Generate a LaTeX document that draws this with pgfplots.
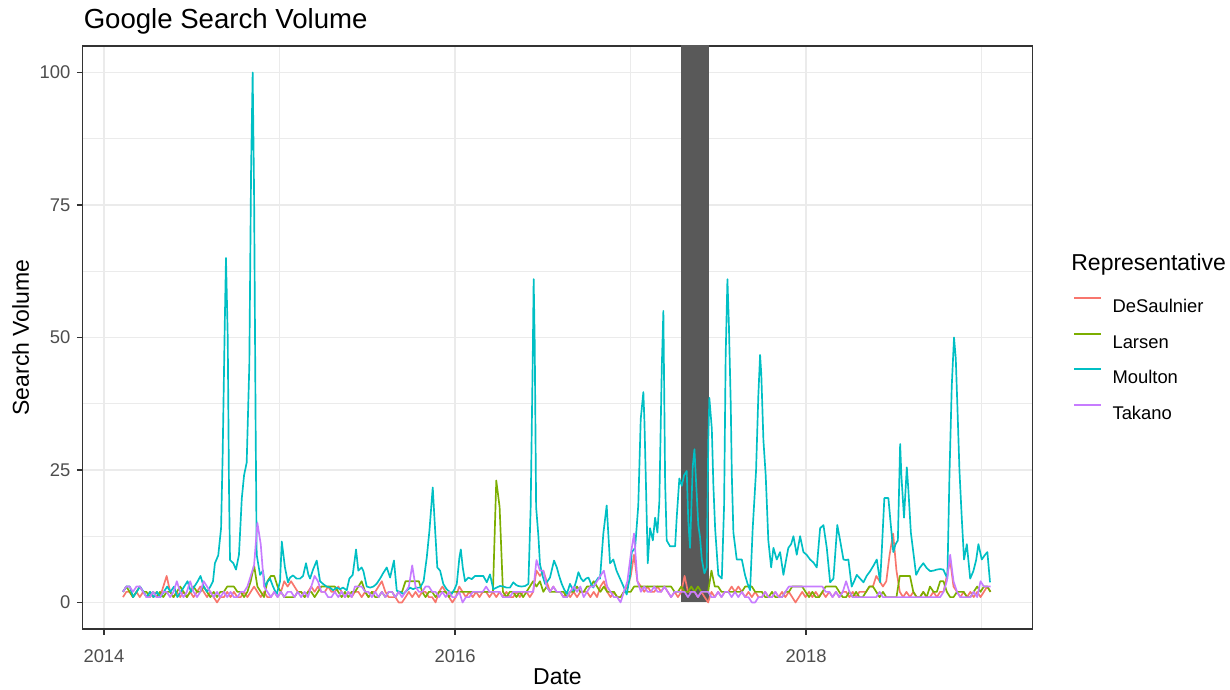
\documentclass[border=0pt]{standalone}
\usepackage{pgfplots}
\pgfplotsset{compat=1.18}
\usepackage{pgfplotstable}
\usepackage{fontspec}
\setmainfont{Liberation Sans}
\usetikzlibrary{calc}
\definecolor{cD}{HTML}{F8766D}
\definecolor{cL}{HTML}{7CAE00}
\definecolor{cM}{HTML}{00BFC4}
\definecolor{cT}{HTML}{C77CFF}
\definecolor{gridc}{HTML}{EBEBEB}
\definecolor{tickc}{HTML}{4D4D4D}
\definecolor{bordc}{HTML}{333333}
\definecolor{rectc}{HTML}{595959}

\pgfplotstableread{
year D L T
2014.108 1 2 2
2014.127 2 3 3
2014.146 2 2 3
2014.165 1 1 2
2014.185 2 2 3
2014.204 1 3 3
2014.223 2 2 2
2014.242 1 2 1
2014.261 2 1 1
2014.280 1 2 2
2014.300 2 1 1
2014.319 1 2 1
2014.338 3 1 2
2014.357 5 2 2
2014.377 2 2 1
2014.396 1 1 2
2014.415 2 2 4
2014.434 1 3 2
2014.453 2 2 1
2014.472 1 1 2
2014.491 2 2 4
2014.510 1 3 2
2014.530 2 2 1
2014.549 3 2 2
2014.568 2 3 4
2014.587 1 2 3
2014.606 2 1 2
2014.625 1 2 1
2014.644 0 1 2
2014.663 1 2 1
2014.683 1 2 2
2014.702 2 3 1
2014.721 1 3 2
2014.740 2 3 1
2014.760 1 2 1
2014.779 1 2 2
2014.798 2 1 2
2014.817 1 2 3
2014.836 2 4 5
2014.855 3 7 7
2014.874 2 3 15
2014.893 1 2 11
2014.912 2 1 3
2014.931 1 4 2
2014.951 1 5 1
2014.970 2 5 2
2014.989 1 3 1
2015.008 2 2 2
2015.027 4 1 1
2015.046 3 1 2
2015.066 4 1 2
2015.085 3 1 1
2015.104 2 2 2
2015.123 2 2 1
2015.143 1 1 2
2015.162 2 2 1
2015.181 3 2 3
2015.200 2 1 5
2015.219 3 2 4
2015.238 2 3 2
2015.258 2 3 2
2015.277 3 3 1
2015.296 2 3 1
2015.315 2 3 2
2015.335 3 2 1
2015.354 2 1 2
2015.373 1 2 1
2015.392 2 1 2
2015.411 1 2 1
2015.430 2 2 3
2015.449 2 3 3
2015.468 1 4 3
2015.488 2 2 2
2015.507 1 1 2
2015.526 2 2 1
2015.545 2 1 2
2015.564 3 1 1
2015.583 4 2 2
2015.603 2 1 1
2015.622 1 2 2
2015.641 1 2 2
2015.660 1 1 1
2015.679 0 2 2
2015.698 0 2 1
2015.718 1 4 2
2015.737 2 4 3
2015.756 1 4 7
2015.775 2 4 3
2015.794 1 4 2
2015.813 2 2 2
2015.832 2 1 3
2015.851 1 2 3
2015.870 1 2 2
2015.889 0 1 2
2015.909 2 2 1
2015.928 3 2 2
2015.947 2 2 1
2015.966 1 1 2
2015.985 0 2 1
2016.004 1 2 1
2016.024 3 2 2
2016.043 2 2 0
2016.062 1 2 1
2016.081 2 2 1
2016.101 1 2 2
2016.120 2 2 2
2016.139 1 2 2
2016.158 2 2 2
2016.177 2 2 3
2016.196 1 2 2
2016.216 2 2 2
2016.235 1 23 2
2016.254 2 18 2
2016.273 1 2 1
2016.293 2 1 1
2016.312 1 2 1
2016.331 1 2 2
2016.350 2 1 2
2016.369 1 2 2
2016.388 2 1 2
2016.407 2 2 2
2016.426 1 3 2
2016.445 2 4 2
2016.464 6 3 8
2016.484 5 4 6
2016.503 6 2 6
2016.522 4 3 3
2016.541 2 2 2
2016.560 3 2 3
2016.579 2 2 2
2016.599 2 2 2
2016.618 1 2 1
2016.637 2 1 1
2016.656 1 2 2
2016.676 2 2 3
2016.695 1 3 2
2016.714 2 2 3
2016.733 2 2 1
2016.752 2 3 2
2016.771 1 3 3
2016.790 2 4 3
2016.809 1 3 4
2016.828 3 2 5
2016.848 4 3 6
2016.867 2 2 3
2016.886 1 2 2
2016.905 2 2 1
2016.924 1 1 1
2016.943 1 1 0
2016.962 2 2 2
2016.982 3 2 4
2017.001 5 2 9
2017.020 9 3 13
2017.039 4 3 4
2017.059 3 3 2
2017.078 2 3 3
2017.097 3 3 2
2017.116 2 3 2
2017.135 2 3 3
2017.154 3 3 2
2017.174 2 3 2
2017.193 3 3 3
2017.212 2 3 2
2017.231 1 3 1
2017.251 2 2 2
2017.270 1 2 2
2017.289 2 3 2
2017.308 5 2 2
2017.327 2 2 1
2017.346 2 3 2
2017.365 2 2 2
2017.384 1 3 1
2017.403 2 2 2
2017.422 1 2 2
2017.442 0 2 2
2017.461 2 6 1
2017.480 1 3 1
2017.499 2 3 2
2017.518 1 2 1
2017.537 2 2 2
2017.557 2 2 2
2017.576 3 2 1
2017.595 2 2 2
2017.614 3 2 1
2017.634 2 2 2
2017.653 1 3 1
2017.672 2 3 1
2017.691 1 3 0
2017.710 2 2 0
2017.729 1 2 1
2017.748 1 2 1
2017.767 2 1 2
2017.786 1 1 1
2017.806 1 2 1
2017.825 2 1 2
2017.844 1 1 1
2017.863 2 1 1
2017.882 1 2 2
2017.902 2 2 3
2017.921 1 3 3
2017.940 0 3 3
2017.959 1 3 3
2017.978 2 3 3
2017.997 1 2 3
2018.017 2 1 3
2018.036 1 2 3
2018.055 2 1 3
2018.074 1 1 3
2018.093 2 2 3
2018.112 1 3 2
2018.132 2 3 2
2018.151 1 3 1
2018.170 2 3 2
2018.189 1 2 1
2018.209 2 1 2
2018.228 2 1 4
2018.247 1 2 2
2018.266 2 1 1
2018.285 1 2 1
2018.304 2 1 1
2018.323 2 1 1
2018.342 2 2 1
2018.361 3 3 1
2018.381 3 3 1
2018.400 5 2 1
2018.419 4 1 2
2018.438 3 2 1
2018.457 4 1 1
2018.476 9 1 1
2018.496 13 1 1
2018.515 6 1 1
2018.534 2 5 1
2018.553 1 5 1
2018.572 2 5 1
2018.592 1 5 1
2018.611 2 2 1
2018.630 1 1 1
2018.649 1 1 1
2018.668 2 2 1
2018.687 1 1 1
2018.706 1 3 1
2018.726 2 2 1
2018.745 1 2 1
2018.764 2 4 1
2018.783 2 4 2
2018.802 5 2 4
2018.821 8 1 9
2018.840 3 1 4
2018.860 2 2 2
2018.879 1 2 1
2018.898 2 2 1
2018.917 1 1 1
2018.936 2 1 1
2018.955 1 2 2
2018.975 2 3 1
2018.994 1 2 4
2019.013 2 3 3
2019.032 3 3 3
2019.051 2 2 3
}\weekly

\pgfplotstableread{
year v
2014.108 2
2014.128 3
2014.147 3
2014.166 1
2014.186 2
2014.205 3
2014.225 2
2014.244 1
2014.263 2
2014.283 1
2014.302 2
2014.321 1
2014.341 2
2014.360 3
2014.379 2
2014.399 3
2014.418 1
2014.438 2
2014.457 3
2014.476 4
2014.496 2
2014.515 3
2014.534 4
2014.550 5
2014.568 3
2014.587 2
2014.606 3
2014.621 4
2014.632 7.4
2014.651 8.9
2014.667 14
2014.676 27.8
2014.688 52.4
2014.695 65
2014.705 50
2014.712 22
2014.718 8
2014.737 7.4
2014.752 6.2
2014.769 9
2014.785 19.6
2014.798 24
2014.813 26.4
2014.828 44.8
2014.838 81.5
2014.847 100
2014.855 77.5
2014.864 32.8
2014.870 9
2014.889 5.2
2014.906 6
2014.917 3
2014.934 4
2014.946 4.5
2014.963 3
2014.984 1.5
2015.003 4
2015.013 11.5
2015.031 6.6
2015.048 3.8
2015.060 4.7
2015.077 5.1
2015.097 4.5
2015.117 4.5
2015.134 5
2015.151 7.4
2015.164 5.3
2015.174 4.5
2015.191 6.2
2015.212 7.9
2015.231 4
2015.248 3.5
2015.268 3
2015.288 2.8
2015.305 2.3
2015.326 2.8
2015.345 2.5
2015.362 2.8
2015.383 2.3
2015.398 4.5
2015.417 5.2
2015.436 10
2015.449 6
2015.468 6.6
2015.478 5.9
2015.497 3
2015.516 2.8
2015.535 3
2015.553 3.5
2015.573 4.5
2015.590 5.5
2015.611 6.6
2015.630 4.7
2015.652 7.9
2015.668 2.2
2015.687 2
2015.705 1.6
2015.724 2.2
2015.744 2.8
2015.761 2.5
2015.781 2.8
2015.801 2.8
2015.821 4
2015.839 8.5
2015.854 13.5
2015.873 21.7
2015.886 14
2015.899 6.6
2015.915 6
2015.933 3.5
2015.952 2.5
2015.962 2.2
2015.981 1.6
2015.997 2.5
2016.010 3.5
2016.025 8.5
2016.033 10
2016.044 6.6
2016.057 4
2016.076 4.7
2016.095 4.4
2016.114 5
2016.134 5
2016.151 5
2016.161 5
2016.181 3.8
2016.199 5.3
2016.218 2.5
2016.236 2.8
2016.256 3.1
2016.276 3
2016.293 2.8
2016.313 2.8
2016.332 3.8
2016.348 3.3
2016.361 3.1
2016.379 3
2016.399 3.1
2016.418 3.5
2016.431 18
2016.443 46.7
2016.448 61
2016.454 49
2016.462 18
2016.475 12.5
2016.484 7.2
2016.499 5
2016.513 3.5
2016.527 4
2016.541 4.7
2016.564 7.9
2016.580 6.6
2016.593 5
2016.608 3.5
2016.621 2.5
2016.637 1.6
2016.655 3.5
2016.674 2.2
2016.690 4
2016.703 5.7
2016.718 4.5
2016.731 4
2016.746 4.5
2016.760 4.7
2016.775 3.5
2016.788 2.8
2016.803 4
2016.817 4.7
2016.826 4.5
2016.845 13
2016.864 18.3
2016.883 7.4
2016.902 8.1
2016.920 6
2016.940 4.5
2016.960 3
2016.978 1.5
2016.997 5
2017.007 9.5
2017.026 10.3
2017.044 18.3
2017.058 34.6
2017.073 39.7
2017.079 34.2
2017.087 23.4
2017.098 7.4
2017.111 14
2017.127 11.7
2017.140 16
2017.153 13.2
2017.164 19
2017.178 44.4
2017.187 55
2017.197 22.7
2017.206 11.7
2017.225 10.6
2017.254 10.6
2017.263 16
2017.278 23.4
2017.292 22
2017.305 24
2017.320 24.8
2017.329 15.3
2017.339 10.3
2017.354 25.5
2017.364 28.9
2017.376 21
2017.386 14.6
2017.396 12.3
2017.406 8.1
2017.421 5.5
2017.434 6.6
2017.443 30.6
2017.449 38.6
2017.463 32.8
2017.472 22
2017.482 13.9
2017.500 5.2
2017.520 4.5
2017.533 18.3
2017.542 46.7
2017.552 61
2017.560 52.8
2017.571 37.2
2017.577 24
2017.586 13.2
2017.605 8.1
2017.618 8.1
2017.634 8.1
2017.652 5.2
2017.667 3.5
2017.681 2.3
2017.696 14
2017.715 24.8
2017.728 39
2017.738 46.7
2017.745 43
2017.757 30.6
2017.770 24
2017.785 11.7
2017.801 6.6
2017.814 10.3
2017.833 8.1
2017.852 9.5
2017.871 5.2
2017.886 8
2017.899 10.3
2017.915 11
2017.928 12.5
2017.947 9
2017.966 12.5
2017.985 9.5
2018.003 9
2018.023 8.1
2018.043 7.5
2018.061 6.6
2018.080 14
2018.099 14.6
2018.118 10.3
2018.137 3.8
2018.156 4.5
2018.178 14.6
2018.194 11.7
2018.213 8.1
2018.228 8
2018.241 8.1
2018.260 3
2018.274 4
2018.289 5.2
2018.308 4.5
2018.327 3.8
2018.345 5
2018.365 5.9
2018.385 7
2018.403 8.1
2018.422 3.8
2018.431 9.5
2018.446 19.7
2018.469 19.7
2018.479 16
2018.497 9.5
2018.510 11
2018.523 11.7
2018.536 29.9
2018.543 24
2018.558 16
2018.574 25.5
2018.583 21.2
2018.597 13.2
2018.611 9.5
2018.627 5.2
2018.647 6.5
2018.668 7.4
2018.687 6.5
2018.707 5.9
2018.726 6
2018.745 6.2
2018.764 6.3
2018.782 6.2
2018.805 4.5
2018.817 24
2018.830 40.8
2018.843 50
2018.853 46
2018.862 37.2
2018.874 24.8
2018.887 16
2018.900 8.1
2018.916 11
2018.935 4.5
2018.953 5.9
2018.969 8
2018.982 11
2019.001 8.1
2019.020 9
2019.033 9.5
2019.048 3.8
}\moulton

\begin{document}
\begin{tikzpicture}
\path[use as bounding box] (-39.47pt,-29.19pt) rectangle (549.0pt,300.9pt);
\begin{axis}[
  name=ax,
  at={(0,0)}, anchor=south west,
  scale only axis, width=454.5pt, height=278.9pt,
  xmin=2013.8775, xmax=2019.290, ymin=-5, ymax=105,
  xtick={2014,2016,2018}, xticklabels={2014,2016,2018},
  minor xtick={2015,2017,2019},
  ytick={0,25,50,75,100}, minor ytick={12.5,37.5,62.5,87.5},
  grid=both,
  major grid style={gridc, line width=0.6pt},
  minor grid style={gridc, line width=0.35pt},
  axis line style={bordc, line width=0.7pt},
  tick align=outside, major tick length=2.75pt, minor tick length=0pt,
  tick style={bordc, line width=0.6pt},
  xtick pos=left, ytick pos=left,
  /pgf/number format/assume math mode=true,
  ticklabel style={font=\fontsize{8.8}{10}\selectfont, text=tickc},
  yticklabel style={anchor=east, inner sep=0pt, xshift=-2.9pt},
  xticklabel style={anchor=base, inner sep=0pt, yshift=-13.25pt},
  title={Google Search Volume},
  title style={at={(axis description cs:0,1)}, anchor=base west, inner sep=0pt, xshift=0.4pt, yshift=2.4pt, font=\fontsize{13.2}{15}\selectfont},
  xlabel={Date}, ylabel={Search Volume},
  label style={font=\fontsize{11}{13}\selectfont, inner sep=0pt},
  xlabel style={at={(axis description cs:0.5,0)}, anchor=base, yshift=-26.8pt},
  ylabel style={at={($(axis description cs:0,0.5)+(-25.6pt,0)$)}, anchor=base},
  no markers,
  every axis plot/.append style={line width=0.8pt, line join=round},
  legend style={at={(1,1)}, anchor=north west, xshift=19.5pt, yshift=-120.2pt,
    draw=none, fill=none, inner sep=0pt, outer sep=0pt, row sep=9.7pt,
    font=\fontsize{8.8}{10}\selectfont,
    nodes={inner sep=0pt, outer sep=0pt, text height=6.3pt, text depth=0pt},
    /tikz/every odd column/.append style={column sep=5.0pt}},
  legend cell align=left,
  legend image code/.code={\draw[#1, line width=0.9pt] (0pt,3.7pt) -- (12.9pt,3.7pt);},
]
\addplot[fill=rectc, draw=none, forget plot] coordinates {(2017.286,0) (2017.446,0) (2017.446,110) (2017.286,110)} -- cycle;
\addplot[cD] table[x=year, y=D] {\weekly};
\addlegendentry{DeSaulnier}
\addplot[cL] table[x=year, y=L] {\weekly};
\addlegendentry{Larsen}
\addplot[cM] table[x=year, y=v] {\moulton};
\addlegendentry{Moulton}
\addplot[cT] table[x=year, y=T] {\weekly};
\addlegendentry{Takano}
\end{axis}
\node[anchor=base west, inner sep=0pt, font=\fontsize{11}{13}\selectfont] at ($(ax.north east)+(18.4pt,-107.2pt)$) {Representative};
\end{tikzpicture}
\end{document}
